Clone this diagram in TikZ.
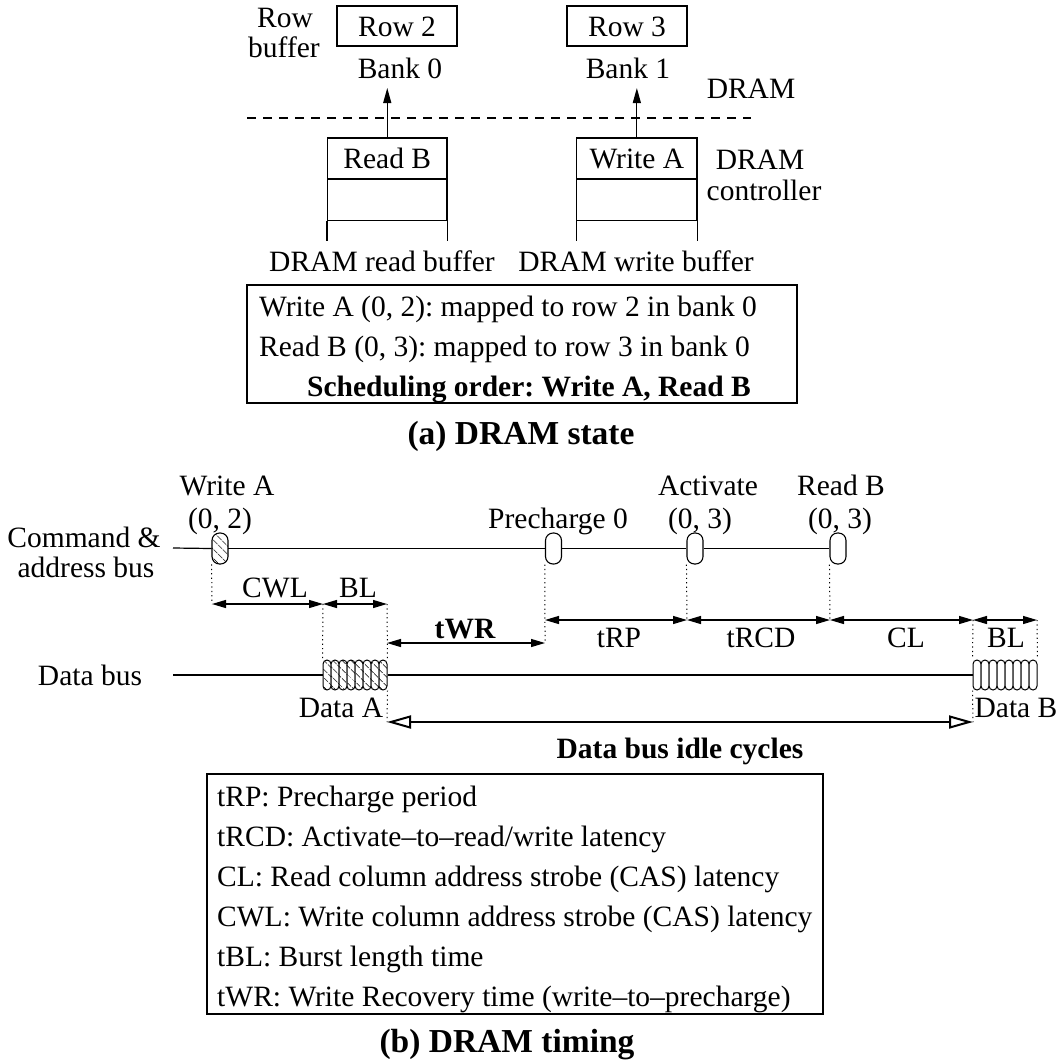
\documentclass[tikz,border=0pt]{standalone}
\usepackage{fontspec}
\setmainfont{Liberation Serif}
\usetikzlibrary{arrows.meta,patterns.meta}
\frenchspacing
\begin{document}
\begin{tikzpicture}[x=1pt,y=-1pt,
  txt/.style={font=\fontsize{29.5}{34}\selectfont, inner sep=0pt, text height=21pt, text depth=1pt},
  boldtxt/.style={txt, font=\fontsize{29.5}{34}\selectfont\bfseries},
  caption/.style={txt, font=\fontsize{33.5}{38}\selectfont\bfseries},
  cell/.style={txt, draw, line width=1.2pt},
  frame/.style={draw, line width=1.2pt, inner sep=0pt},
  wire/.style={line width=1.2pt},
  sepline/.style={line width=1.3pt, dash pattern=on 9pt off 7pt},
  uparrow/.style={line width=1.2pt, -{Triangle[length=15pt,width=8pt]}},
  pill/.style={draw, line width=1.1pt, fill=white, rounded corners=7.5pt,
    minimum width=16pt, minimum height=31pt, inner sep=0pt},
  beat/.style={draw, line width=1pt, fill=white, rounded corners=4pt,
    minimum width=8pt, minimum height=30pt, inner sep=0pt},
  hatched/.style={preaction={fill=white}, pattern={Lines[angle=-45,distance=6.5pt,line width=0.8pt]}},
  guide/.style={line width=1pt, dash pattern=on 1.2pt off 3.2pt},
  span/.style={line width=1.2pt, {Triangle[length=14pt,width=8pt]}-{Triangle[length=14pt,width=8pt]}},
  idle/.style={line width=2.2pt, {Triangle[open,length=24pt,width=13pt,line width=2pt]}-{Triangle[open,length=24pt,width=13pt,line width=2pt]}},
]
\useasboundingbox (0,0) rectangle (1062,1061);

% ---------------- (a) DRAM state ----------------
% DRAM side: row buffers of the two banks
\node[txt] (rowlbl) at (285,17) {Row};
\node[txt] (buflbl) at (284,47) {buffer};
\node[cell, minimum width=120pt, minimum height=40pt] (row2) at (397,26) {Row 2};
\node[cell, minimum width=120pt, minimum height=40pt] (row3) at (627,26) {Row 3};
\node[txt] (bank0) at (400,68) {Bank 0};
\node[txt] (bank1) at (628,68) {Bank 1};
\node[txt] (dramlbl) at (751,88) {DRAM};

% boundary between DRAM and controller
\coordinate (sepL) at (247,118);
\coordinate (sepR) at (751,118);
\draw[sepline] (sepL) -- (sepR);

% controller queues
\node[cell, minimum width=119.5pt, minimum height=40.5pt] (rdq) at (387.25,158.25) {Read B};
\node[cell, minimum width=119.5pt, minimum height=40.5pt, anchor=north] (rdq2) at (rdq.south) {};
\draw[wire] (rdq2.south west) -- ++(0,20.5);
\draw[wire] (rdq2.south east) -- ++(0,20.5);
\node[cell, minimum width=120.3pt, minimum height=40.5pt] (wrq) at (636.85,158.25) {Write A};
\node[cell, minimum width=120.3pt, minimum height=40.5pt, anchor=north] (wrq2) at (wrq.south) {};
\draw[wire] (wrq2.south west) -- ++(0,20.5);
\draw[wire] (wrq2.south east) -- ++(0,20.5);

\coordinate (tip0) at (387.25,88);
\coordinate (tip1) at (636.85,88);
\draw[uparrow] (rdq.north) -- (tip0);
\draw[uparrow] (wrq.north) -- (tip1);

\node[txt] (ctl1) at (760,159) {DRAM};
\node[txt] (ctl2) at (764,190) {controller};
\node[txt] (rdqlbl) at (382,261) {DRAM read buffer};
\node[txt] (wrqlbl) at (636,261) {DRAM write buffer};

% request summary
\node[frame, minimum width=550pt, minimum height=118pt] (statebox) at (522,344) {};
\node[txt, anchor=west] (reqA) at (259,306) {Write A (0, 2): mapped to row 2 in bank 0};
\node[txt, anchor=west] (reqB) at (259,346) {Read B (0, 3): mapped to row 3 in bank 0};
\node[boldtxt, anchor=west] (order) at (307,386) {Scheduling order: Write A, Read B};
\node[caption] (capa) at (521,434) {(a) DRAM state};

% ---------------- (b) DRAM timing ----------------
\node[txt] (cmd1) at (84,537) {Command \&};
\node[txt] (cmd2) at (86,567) {address bus};
\node[txt] (datalbl) at (90,675) {Data bus};

% command bus
\coordinate (cmd0) at (173,548);
\node[pill, hatched] (pWA) at (220,548.5) {};
\node[pill] (pPRE) at (553.5,548.5) {};
\node[pill] (pACT) at (695,548.5) {};
\node[pill] (pRB) at (838,548.5) {};
\draw[wire] (cmd0) -- (pWA.west);
\draw[wire] (pWA.east) -- (pPRE.west);
\draw[wire] (pPRE.east) -- (pACT.west);
\draw[wire] (pACT.east) -- (pRB.west);

\node[txt] (wA1) at (227,485) {Write A};
\node[txt] (wA2) at (220,518) {(0, 2)};
\node[txt] (pre) at (558,518) {Precharge 0};
\node[txt] (act1) at (708,485) {Activate};
\node[txt] (act2) at (700,518) {(0, 3)};
\node[txt] (rB1) at (841,485) {Read B};
\node[txt] (rB2) at (840,518) {(0, 3)};

% data bus
\coordinate (data0) at (173,675);
\foreach \i in {1,...,8} {
  \node[beat, hatched] (dA\i) at ({323+8*\i-4},675) {};
  \node[beat] (dB\i) at ({973+8*\i-4},675) {};
}
\draw[wire] (data0) -- (dA1.west);
\draw[wire] (dA8.east) -- (dB1.west);
\node[txt] (dAlbl) at (341,707) {Data A};
\node[txt] (dBlbl) at (1016,707) {Data B};

% timing spans
\coordinate (cwlL) at (212,604);
\coordinate (cwlR) at (323,604);
\coordinate (blAR) at (387,604);
\coordinate (twrL) at (387,643);
\coordinate (twrR) at (545,643);
\coordinate (rpL) at (545,620);
\coordinate (rpR) at (687,620);
\coordinate (rcdR) at (830,620);
\coordinate (clR) at (973,620);
\coordinate (blBR) at (1037,620);
\coordinate (idleL) at (387,722);
\coordinate (idleR) at (973,722);

% guide lines
\draw[guide] (pWA.south west) -- (cwlL);
\draw[guide] (cwlR) -- (dA1.north west);
\draw[guide] (blAR) -- (dA8.north east);
\draw[guide] (dA8.south east) -- (idleL);
\draw[guide] (pPRE.south west) -- (twrR);
\draw[guide] (pACT.south west) -- (rpR);
\draw[guide] (pRB.south west) -- (rcdR);
\draw[guide] (clR) -- (dB1.north west);
\draw[guide] (dB1.south west) -- (idleR);
\draw[guide] (blBR) -- (dB8.north east);

\draw[span] (cwlL) -- (cwlR);
\draw[span] (cwlR) -- (blAR);
\draw[span] (twrL) -- (twrR);
\draw[span] (rpL) -- (rpR);
\draw[span] (rpR) -- (rcdR);
\draw[span] (rcdR) -- (clR);
\draw[span] (clR) -- (blBR);
\draw[idle] (idleL) -- (idleR);

\node[txt] (cwl) at (275,587) {CWL};
\node[txt] (blA) at (358,587) {BL};
\node[boldtxt] (twr) at (465,628) {tWR};
\node[txt] (trp) at (619,637) {tRP};
\node[txt] (trcd) at (761,637) {tRCD};
\node[txt] (cl) at (906,637) {CL};
\node[txt] (blB) at (1006,637) {BL};
\node[boldtxt] (idlelbl) at (680,748) {Data bus idle cycles};

% legend
\node[frame, minimum width=616pt, minimum height=240pt] (legend) at (515,894) {};
\node[txt, anchor=west] (l1) at (217,796) {tRP: Precharge period};
\node[txt, anchor=west] (l2) at (217,836) {tRCD: Activate--to--read/write latency};
\node[txt, anchor=west] (l3) at (217,876) {CL: Read column address strobe (CAS) latency};
\node[txt, anchor=west] (l4) at (217,916) {CWL: Write column address strobe (CAS) latency};
\node[txt, anchor=west] (l5) at (217,956) {tBL: Burst length time};
\node[txt, anchor=west] (l6) at (217,996) {tWR: Write Recovery time (write--to--precharge)};
\node[caption] (capb) at (507,1042) {(b) DRAM timing};
\end{tikzpicture}
\end{document}
